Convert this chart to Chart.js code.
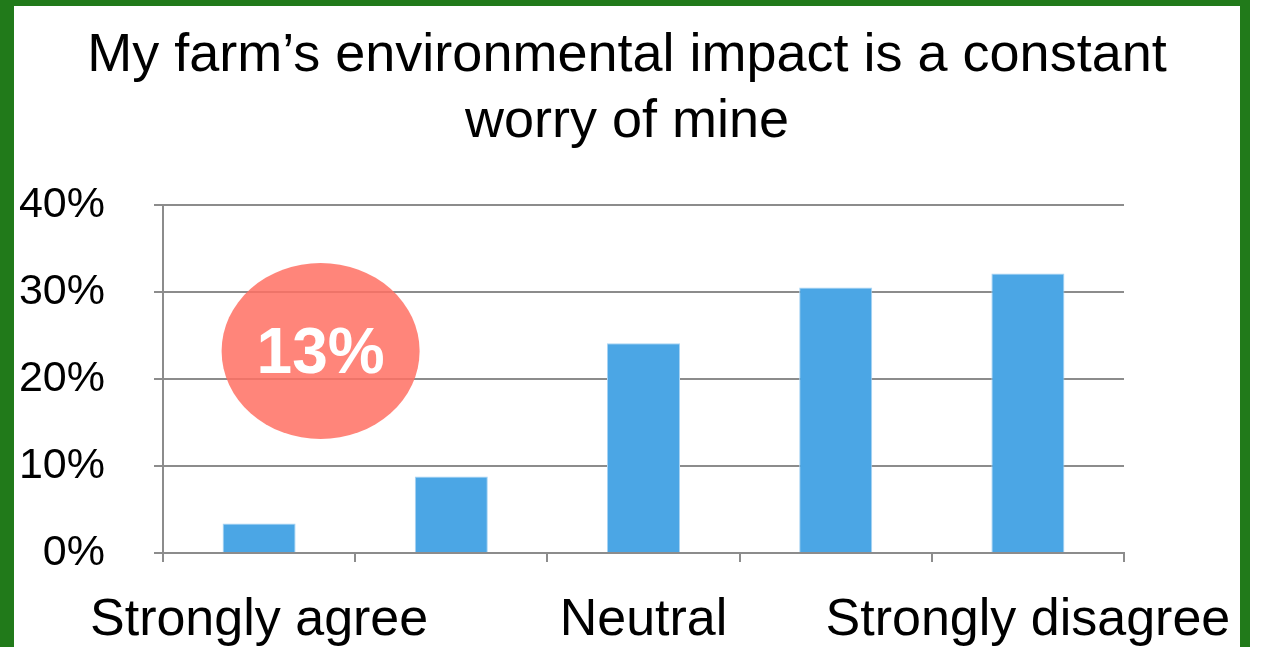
<!DOCTYPE html>
<html>
<head>
<meta charset="utf-8">
<script src="https://cdn.jsdelivr.net/npm/chart.js@4.4.0/dist/chart.umd.min.js"></script>
<style>
    html, body { margin: 0; padding: 0; background: #fff; overflow: hidden; }
    #wrap { position: absolute; left: 0; top: 0; width: 1265px; height: 647px; }
    .edge { position: absolute; background: #217a1a; }
</style>
</head>
<body>
<div id="wrap">
    <canvas id="chart" width="1265" height="647"></canvas>
    <div class="edge" style="left:0;top:0;width:14px;height:647px"></div>
    <div class="edge" style="left:0;top:0;width:1250px;height:6px"></div>
    <div class="edge" style="left:1240px;top:0;width:10px;height:647px"></div>
</div>
<script>
// --- data ---
const categories = ['Strongly agree', 'Agree', 'Neutral', 'Disagree', 'Strongly disagree'];
const shares = [3.4, 8.8, 24.1, 30.5, 32.1];
const yTicks = [0, 10, 20, 30, 40];
const titleLines = ['My farm\u2019s environmental impact is a constant', 'worry of mine'];
const calloutText = '13%';

const FONT = '"Liberation Sans", Arial, sans-serif';

// red bubble with the combined "agree" share
const callout = {
    id: 'callout',
    afterDatasetsDraw(chart) {
        const { ctx, scales } = chart;
        const cx = scales.x.getPixelForValue(0.32);
        const cy = scales.y.getPixelForValue(23.2);
        ctx.save();
        ctx.fillStyle = 'rgba(255, 112, 99, 0.85)';
        ctx.beginPath();
        ctx.ellipse(cx, cy, 99, 88, 0, 0, Math.PI * 2);
        ctx.fill();
        ctx.fillStyle = '#fff';
        ctx.font = 'bold 64px ' + FONT;
        ctx.textAlign = 'center';
        ctx.textBaseline = 'middle';
        ctx.fillText(calloutText, cx, cy + 4);
        ctx.restore();
    }
};

new Chart(document.getElementById('chart').getContext('2d'), {
    type: 'bar',
    data: {
        labels: categories,
        datasets: [{
            data: shares,
            backgroundColor: '#4ba6e5',
            borderColor: '#a9d4f3',
            borderWidth: 1,
            barPercentage: 0.76,
            categoryPercentage: 0.5
        }]
    },
    options: {
        responsive: false,
        animation: false,
        layout: { padding: { left: 0, right: 11, top: 0, bottom: 0 } },
        plugins: {
            legend: { display: false },
            tooltip: { enabled: false },
            title: {
                display: true,
                text: titleLines,
                color: '#000',
                font: { family: FONT, size: 54, weight: 'normal', lineHeight: 1.22 },
                padding: { top: 23, bottom: 50 }
            }
        },
        scales: {
            x: {
                afterFit: s => { s.height = 94; s.paddingLeft = 0; s.paddingRight = 0; },
                grid: { drawOnChartArea: false, color: '#8c8c8c', lineWidth: 2, tickLength: 9, offset: true },
                border: { color: '#8c8c8c', width: 2 },
                ticks: {
                    autoSkip: false,
                    maxRotation: 0,
                    minRotation: 0,
                    color: '#000',
                    padding: 33,
                    font: { family: FONT, size: 52, lineHeight: 1.0 },
                    callback: (v, i) => (i % 2 === 0 ? categories[i] : '')
                }
            },
            y: {
                min: 0,
                max: 40,
                afterBuildTicks: s => { s.ticks = yTicks.map(v => ({ value: v })); },
                afterFit: s => { s.width = 163; },
                grid: { color: '#8c8c8c', lineWidth: 2, tickLength: 9 },
                border: { color: '#8c8c8c', width: 2 },
                ticks: {
                    color: '#000',
                    padding: 49,
                    font: { family: FONT, size: 43 },
                    callback: v => v + '%'
                }
            },
            // empty axis that only reserves room on the right
            yRight: {
                position: 'right',
                display: true,
                afterFit: s => { s.width = 130; },
                grid: { display: false },
                border: { display: false },
                ticks: { display: false }
            }
        }
    },
    plugins: [callout]
});
</script>
</body>
</html>
